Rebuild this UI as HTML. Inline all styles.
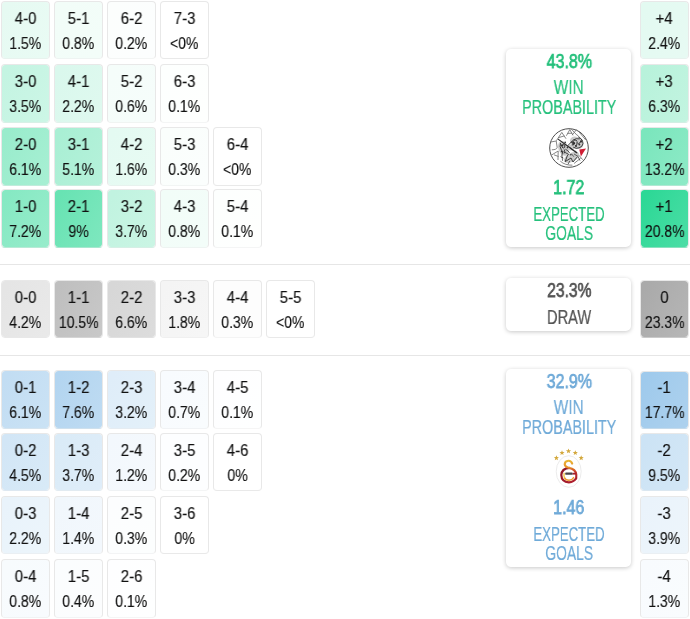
<!DOCTYPE html>
<html><head><meta charset="utf-8"><title>Match forecast</title>
<style>
html,body{margin:0;padding:0;background:#fff}
body{width:690px;height:619px;position:relative;overflow:hidden;font-family:"Liberation Sans",sans-serif;color:#111}
.c{position:absolute;box-sizing:border-box;border:1px solid #e8e8e8;border-radius:4px;padding-top:3.5px;text-align:center;font-size:16px;line-height:25px;white-space:nowrap;overflow:hidden}
.c span{display:inline-block;will-change:transform;-webkit-text-stroke:.14px #111;transform:scaleX(.875)}
.c span.a{transform:scaleX(.94)}
.hr{position:absolute;left:0;width:690px;height:1px;background:#e6e6e6}
.card{position:absolute;box-sizing:border-box;background:#fff;border-radius:5px;box-shadow:0 1px 4px rgba(0,0,0,.22)}
.t{position:absolute;width:200px;text-align:center;white-space:nowrap;line-height:1.117}
.t span{display:inline-block;will-change:transform}
.lg{position:absolute}
</style></head><body>
<div class="hr" style="top:264px"></div>
<div class="hr" style="top:354.5px"></div>
<div class="c" style="left:1.2px;top:1.15px;width:48.8px;height:58.3px;background:linear-gradient(120deg,#e6faf2 10%,#e9fbf4 95%);background-clip:padding-box;border-bottom-color:#e8f3ee"><span class="a">4-0</span><br><span>1.5%</span></div>
<div class="c" style="left:54.13px;top:1.15px;width:48.8px;height:58.3px;background:linear-gradient(120deg,#f2fdf8 10%,#f3fdf9 95%);background-clip:padding-box;border-bottom-color:#eef4f2"><span class="a">5-1</span><br><span>0.8%</span></div>
<div class="c" style="left:107.06px;top:1.15px;width:48.8px;height:58.3px;background:linear-gradient(120deg,#fcfefd 10%,#fcfefe 95%);background-clip:padding-box;border-bottom-color:#f3f5f4"><span class="a">6-2</span><br><span>0.2%</span></div>
<div class="c" style="left:159.99px;top:1.15px;width:48.8px;height:58.3px;background:#fff;background-clip:padding-box;border-bottom-color:#e9e9e9"><span class="a">7-3</span><br><span>&lt;0%</span></div>
<div class="c" style="left:1.2px;top:64.48px;width:48.8px;height:58.3px;background:linear-gradient(120deg,#c4f4e2 10%,#ccf6e6 95%);background-clip:padding-box;border-bottom-color:#d7f0e6"><span class="a">3-0</span><br><span>3.5%</span></div>
<div class="c" style="left:54.13px;top:64.48px;width:48.8px;height:58.3px;background:linear-gradient(120deg,#daf8ed 10%,#dff9ef 95%);background-clip:padding-box;border-bottom-color:#e2f2ec"><span class="a">4-1</span><br><span>2.2%</span></div>
<div class="c" style="left:107.06px;top:64.48px;width:48.8px;height:58.3px;background:linear-gradient(120deg,#f5fdfa 10%,#f6fdfb 95%);background-clip:padding-box;border-bottom-color:#f0f4f2"><span class="a">5-2</span><br><span>0.6%</span></div>
<div class="c" style="left:159.99px;top:64.48px;width:48.8px;height:58.3px;background:linear-gradient(120deg,#fdfffe 10%,#fefffe 95%);background-clip:padding-box;border-bottom-color:#f4f5f5"><span class="a">6-3</span><br><span>0.1%</span></div>
<div class="c" style="left:1.2px;top:127.48px;width:48.8px;height:58.3px;background:linear-gradient(120deg,#99eccc 10%,#a7efd3 95%);background-clip:padding-box;border-bottom-color:#c1ebdb"><span class="a">2-0</span><br><span>6.1%</span></div>
<div class="c" style="left:54.13px;top:127.48px;width:48.8px;height:58.3px;background:linear-gradient(120deg,#a9efd4 10%,#b5f1da 95%);background-clip:padding-box;border-bottom-color:#c9eddf"><span class="a">3-1</span><br><span>5.1%</span></div>
<div class="c" style="left:107.06px;top:127.48px;width:48.8px;height:58.3px;background:linear-gradient(120deg,#e4faf2 10%,#e8fbf3 95%);background-clip:padding-box;border-bottom-color:#e7f2ee"><span class="a">4-2</span><br><span>1.6%</span></div>
<div class="c" style="left:159.99px;top:127.48px;width:48.8px;height:58.3px;background:linear-gradient(120deg,#fafefc 10%,#fbfefd 95%);background-clip:padding-box;border-bottom-color:#f2f5f4"><span class="a">5-3</span><br><span>0.3%</span></div>
<div class="c" style="left:212.92px;top:127.48px;width:48.8px;height:58.3px;background:#fff;background-clip:padding-box;border-bottom-color:#e9e9e9"><span class="a">6-4</span><br><span>&lt;0%</span></div>
<div class="c" style="left:1.2px;top:189.3px;width:48.8px;height:58.3px;background:linear-gradient(120deg,#86e9c3 10%,#97eccb 95%);background-clip:padding-box;border-bottom-color:#b8ead6"><span class="a">1-0</span><br><span>7.2%</span></div>
<div class="c" style="left:54.13px;top:189.3px;width:48.8px;height:58.3px;background:linear-gradient(120deg,#68e3b3 10%,#7de7be 95%);background-clip:padding-box;border-bottom-color:#a8e7cf"><span class="a">2-1</span><br><span>9%</span></div>
<div class="c" style="left:107.06px;top:189.3px;width:48.8px;height:58.3px;background:linear-gradient(120deg,#c1f3e0 10%,#caf5e4 95%);background-clip:padding-box;border-bottom-color:#d5efe5"><span class="a">3-2</span><br><span>3.7%</span></div>
<div class="c" style="left:159.99px;top:189.3px;width:48.8px;height:58.3px;background:linear-gradient(120deg,#f2fdf8 10%,#f3fdf9 95%);background-clip:padding-box;border-bottom-color:#eef4f2"><span class="a">4-3</span><br><span>0.8%</span></div>
<div class="c" style="left:212.92px;top:189.3px;width:48.8px;height:58.3px;background:linear-gradient(120deg,#fdfffe 10%,#fefffe 95%);background-clip:padding-box;border-bottom-color:#f4f5f5"><span class="a">5-4</span><br><span>0.1%</span></div>
<div class="c" style="left:1.2px;top:280.1px;width:48.8px;height:58.3px;background:linear-gradient(120deg,#e5e5e5 10%,#e9e9e9 95%);background-clip:padding-box;border-bottom-color:#e8e8e8"><span class="a">0-0</span><br><span>4.2%</span></div>
<div class="c" style="left:54.13px;top:280.1px;width:48.8px;height:58.3px;background:linear-gradient(120deg,#bfbfbf 10%,#c8c8c8 95%);background-clip:padding-box;border-bottom-color:#d5d5d5"><span class="a">1-1</span><br><span>10.5%</span></div>
<div class="c" style="left:107.06px;top:280.1px;width:48.8px;height:58.3px;background:linear-gradient(120deg,#d7d7d7 10%,#dcdcdc 95%);background-clip:padding-box;border-bottom-color:#e1e1e1"><span class="a">2-2</span><br><span>6.6%</span></div>
<div class="c" style="left:159.99px;top:280.1px;width:48.8px;height:58.3px;background:linear-gradient(120deg,#f4f4f4 10%,#f6f6f6 95%);background-clip:padding-box;border-bottom-color:#f0f0f0"><span class="a">3-3</span><br><span>1.8%</span></div>
<div class="c" style="left:212.92px;top:280.1px;width:48.8px;height:58.3px;background:linear-gradient(120deg,#fdfdfd 10%,#fdfdfd 95%);background-clip:padding-box;border-bottom-color:#f4f4f4"><span class="a">4-4</span><br><span>0.3%</span></div>
<div class="c" style="left:265.85px;top:280.1px;width:48.8px;height:58.3px;background:#fff;background-clip:padding-box;border-bottom-color:#e9e9e9"><span class="a">5-5</span><br><span>&lt;0%</span></div>
<div class="c" style="left:1.2px;top:370.4px;width:48.8px;height:58.3px;background:linear-gradient(120deg,#c2ddf3 10%,#cae2f4 95%);background-clip:padding-box;border-bottom-color:#d6e4ee"><span class="a">0-1</span><br><span>6.1%</span></div>
<div class="c" style="left:54.13px;top:370.4px;width:48.8px;height:58.3px;background:linear-gradient(120deg,#b3d5f0 10%,#bedbf2 95%);background-clip:padding-box;border-bottom-color:#cee0ed"><span class="a">1-2</span><br><span>7.6%</span></div>
<div class="c" style="left:107.06px;top:370.4px;width:48.8px;height:58.3px;background:linear-gradient(120deg,#dfedf9 10%,#e3f0f9 95%);background-clip:padding-box;border-bottom-color:#e5ecf2"><span class="a">2-3</span><br><span>3.2%</span></div>
<div class="c" style="left:159.99px;top:370.4px;width:48.8px;height:58.3px;background:linear-gradient(120deg,#f8fbfe 10%,#f9fcfe 95%);background-clip:padding-box;border-bottom-color:#f1f3f5"><span class="a">3-4</span><br><span>0.7%</span></div>
<div class="c" style="left:212.92px;top:370.4px;width:48.8px;height:58.3px;background:linear-gradient(120deg,#fefeff 10%,#feffff 95%);background-clip:padding-box;border-bottom-color:#f5f5f5"><span class="a">4-5</span><br><span>0.1%</span></div>
<div class="c" style="left:1.2px;top:433.2px;width:48.8px;height:58.3px;background:linear-gradient(120deg,#d2e6f6 10%,#d8eaf7 95%);background-clip:padding-box;border-bottom-color:#dee8f1"><span class="a">0-2</span><br><span>4.5%</span></div>
<div class="c" style="left:54.13px;top:433.2px;width:48.8px;height:58.3px;background:linear-gradient(120deg,#daebf7 10%,#dfedf9 95%);background-clip:padding-box;border-bottom-color:#e2ebf1"><span class="a">1-3</span><br><span>3.7%</span></div>
<div class="c" style="left:107.06px;top:433.2px;width:48.8px;height:58.3px;background:linear-gradient(120deg,#f3f8fd 10%,#f5f9fd 95%);background-clip:padding-box;border-bottom-color:#eff2f4"><span class="a">2-4</span><br><span>1.2%</span></div>
<div class="c" style="left:159.99px;top:433.2px;width:48.8px;height:58.3px;background:linear-gradient(120deg,#fdfeff 10%,#fdfeff 95%);background-clip:padding-box;border-bottom-color:#f4f5f5"><span class="a">3-5</span><br><span>0.2%</span></div>
<div class="c" style="left:212.92px;top:433.2px;width:48.8px;height:58.3px;background:#fff;background-clip:padding-box;border-bottom-color:#e9e9e9"><span class="a">4-6</span><br><span>0%</span></div>
<div class="c" style="left:1.2px;top:496.2px;width:48.8px;height:58.3px;background:linear-gradient(120deg,#e9f3fb 10%,#ecf5fb 95%);background-clip:padding-box;border-bottom-color:#eaeff3"><span class="a">0-3</span><br><span>2.2%</span></div>
<div class="c" style="left:54.13px;top:496.2px;width:48.8px;height:58.3px;background:linear-gradient(120deg,#f1f7fc 10%,#f3f8fd 95%);background-clip:padding-box;border-bottom-color:#eef1f3"><span class="a">1-4</span><br><span>1.4%</span></div>
<div class="c" style="left:107.06px;top:496.2px;width:48.8px;height:58.3px;background:linear-gradient(120deg,#fcfdfe 10%,#fcfefe 95%);background-clip:padding-box;border-bottom-color:#f3f4f5"><span class="a">2-5</span><br><span>0.3%</span></div>
<div class="c" style="left:159.99px;top:496.2px;width:48.8px;height:58.3px;background:#fff;background-clip:padding-box;border-bottom-color:#e9e9e9"><span class="a">3-6</span><br><span>0%</span></div>
<div class="c" style="left:1.2px;top:559.3px;width:48.8px;height:58.3px;background:linear-gradient(120deg,#f7fbfd 10%,#f8fbfe 95%);background-clip:padding-box;border-bottom-color:#f1f3f4"><span class="a">0-4</span><br><span>0.8%</span></div>
<div class="c" style="left:54.13px;top:559.3px;width:48.8px;height:58.3px;background:linear-gradient(120deg,#fbfdfe 10%,#fcfdfe 95%);background-clip:padding-box;border-bottom-color:#f3f4f5"><span class="a">1-5</span><br><span>0.4%</span></div>
<div class="c" style="left:107.06px;top:559.3px;width:48.8px;height:58.3px;background:linear-gradient(120deg,#fefeff 10%,#feffff 95%);background-clip:padding-box;border-bottom-color:#f5f5f5"><span class="a">2-6</span><br><span>0.1%</span></div>
<div class="c" style="left:640.2px;top:1.15px;width:48.8px;height:58.3px;background:linear-gradient(120deg,#e3faf1 10%,#e7faf3 95%);background-clip:padding-box;border-bottom-color:#e7f2ee"><span class="a">+4</span><br><span>2.4%</span></div>
<div class="c" style="left:640.2px;top:64.48px;width:48.8px;height:58.3px;background:linear-gradient(120deg,#b8f2db 10%,#c2f4e0 95%);background-clip:padding-box;border-bottom-color:#d1eee3"><span class="a">+3</span><br><span>6.3%</span></div>
<div class="c" style="left:640.2px;top:127.48px;width:48.8px;height:58.3px;background:linear-gradient(120deg,#7be6bd 10%,#8deac6 95%);background-clip:padding-box;border-bottom-color:#b1e8d3"><span class="a">+2</span><br><span>13.2%</span></div>
<div class="c" style="left:640.2px;top:189.3px;width:48.8px;height:58.3px;background:linear-gradient(120deg,#2dd896 10%,#4adda5 95%);background-clip:padding-box;border-bottom-color:#8ae1bf"><span class="a">+1</span><br><span>20.8%</span></div>
<div class="c" style="left:640.2px;top:280.1px;width:48.8px;height:58.3px;background:linear-gradient(120deg,#aaaaaa 10%,#b6b6b6 95%);background-clip:padding-box;border-bottom-color:#cacaca"><span class="a">0</span><br><span>23.3%</span></div>
<div class="c" style="left:640.2px;top:370.6px;width:48.8px;height:58.3px;background:linear-gradient(120deg,#9fcaec 10%,#add1ee 95%);background-clip:padding-box;border-bottom-color:#c4daeb"><span class="a">-1</span><br><span>17.7%</span></div>
<div class="c" style="left:640.2px;top:433.2px;width:48.8px;height:58.3px;background:linear-gradient(120deg,#cce3f5 10%,#d3e7f6 95%);background-clip:padding-box;border-bottom-color:#dbe7f0"><span class="a">-2</span><br><span>9.5%</span></div>
<div class="c" style="left:640.2px;top:496.2px;width:48.8px;height:58.3px;background:linear-gradient(120deg,#eaf3fb 10%,#edf5fb 95%);background-clip:padding-box;border-bottom-color:#eaeff3"><span class="a">-3</span><br><span>3.9%</span></div>
<div class="c" style="left:640.2px;top:559.3px;width:48.8px;height:58.3px;background:linear-gradient(120deg,#f8fbfe 10%,#f9fcfe 95%);background-clip:padding-box;border-bottom-color:#f1f3f5"><span class="a">-4</span><br><span>1.3%</span></div>
<div class="card" style="left:506px;top:48.5px;width:125px;height:198px"></div>
<div class="card" style="left:506px;top:277.5px;width:125px;height:53.5px"></div>
<div class="card" style="left:506px;top:368.5px;width:125px;height:198px"></div>
<div class="t" style="top:51px;left:469px;font-size:19.3px;color:#25c07c;-webkit-text-stroke:0.75px #25c07c;"><span style="transform:scaleX(0.83)">43.8%</span></div>
<div class="t" style="top:77px;left:469px;font-size:19.3px;color:#25c07c;-webkit-text-stroke:0.22px #25c07c;"><span style="transform:scaleX(0.8)">WIN</span></div>
<div class="t" style="top:97px;left:469px;font-size:19.3px;color:#25c07c;-webkit-text-stroke:0.22px #25c07c;"><span style="transform:scaleX(0.745)">PROBABILITY</span></div>
<div class="t" style="top:177px;left:469px;font-size:19.3px;color:#25c07c;-webkit-text-stroke:0.75px #25c07c;"><span style="transform:scaleX(0.83)">1.72</span></div>
<div class="t" style="top:204px;left:469px;font-size:19.3px;color:#25c07c;-webkit-text-stroke:0.22px #25c07c;"><span style="transform:scaleX(0.685)">EXPECTED</span></div>
<div class="t" style="top:223px;left:469px;font-size:19.3px;color:#25c07c;-webkit-text-stroke:0.22px #25c07c;"><span style="transform:scaleX(0.72)">GOALS</span></div>
<div class="t" style="top:371px;left:469px;font-size:19.3px;color:#6faad8;-webkit-text-stroke:0.75px #6faad8;"><span style="transform:scaleX(0.83)">32.9%</span></div>
<div class="t" style="top:397px;left:469px;font-size:19.3px;color:#6faad8;-webkit-text-stroke:0.22px #6faad8;"><span style="transform:scaleX(0.8)">WIN</span></div>
<div class="t" style="top:417px;left:469px;font-size:19.3px;color:#6faad8;-webkit-text-stroke:0.22px #6faad8;"><span style="transform:scaleX(0.745)">PROBABILITY</span></div>
<div class="t" style="top:497px;left:469px;font-size:19.3px;color:#6faad8;-webkit-text-stroke:0.75px #6faad8;"><span style="transform:scaleX(0.83)">1.46</span></div>
<div class="t" style="top:524px;left:469px;font-size:19.3px;color:#6faad8;-webkit-text-stroke:0.22px #6faad8;"><span style="transform:scaleX(0.685)">EXPECTED</span></div>
<div class="t" style="top:543px;left:469px;font-size:19.3px;color:#6faad8;-webkit-text-stroke:0.22px #6faad8;"><span style="transform:scaleX(0.72)">GOALS</span></div>
<div class="t" style="top:280px;left:469px;font-size:19.3px;color:#555;-webkit-text-stroke:0.75px #555;"><span style="transform:scaleX(0.81)">23.3%</span></div>
<div class="t" style="top:307px;left:469px;font-size:19.3px;color:#555;-webkit-text-stroke:0.22px #555;"><span style="transform:scaleX(0.76)">DRAW</span></div>

<svg class="lg" style="left:548.6px;top:128.2px" width="40" height="40" viewBox="0 0 40 40">
<circle cx="20" cy="20" r="19.3" fill="#fff" stroke="#4e4e4e" stroke-width="1"/>
<g fill="#8c8c8c" opacity=".45">
<ellipse cx="14.4" cy="20.4" rx="5" ry="7.6" transform="rotate(-22 14.4 20.4)"/>
<ellipse cx="27.6" cy="14.8" rx="7.4" ry="5.4" transform="rotate(38 27.6 14.8)"/>
<ellipse cx="22.6" cy="29.4" rx="8.4" ry="4.4" transform="rotate(-28 22.6 29.4)"/>
<ellipse cx="21.4" cy="19.6" rx="4.4" ry="3"/>
</g>
<g fill="none" stroke="#707070" stroke-width="0.85" stroke-linecap="round" stroke-linejoin="round">
<path d="M17.6 7.4 L20.8 1.6 L23.8 7 M18.8 5.4 L22.8 5.2"/>
<path d="M22.6 1.4 L28 7.2 M27.4 1.8 L23.4 6.8"/>
<path d="M7.6 12.4 L12.8 4.4 L16.8 10.4 M9.6 9.6 L15 8"/>
<path d="M1.8 14 L7.2 13 L8.2 19.4 Q7.8 21.8 3.2 21.8"/>
<path d="M2.6 27 L9.2 23 L9 31.6 M5.4 27 L9.2 28.4"/>
<path d="M28.4 7.2 L33.6 12.4 M29.6 3.4 L36.4 11.6"/>
<path d="M11.6 33.4 Q16 37.4 23 37.2 M25.4 35.2 L31.4 30.4 M30.2 27.6 L33.4 31.4"/>
</g>
<g fill="none" stroke="#262626" stroke-linecap="round" stroke-linejoin="round">
<path d="M9.4 11.4 L27.8 24.8" stroke-width="1.15"/>
<path d="M19 17.4 L24 12.2 Q27 9.8 30.4 10.8" stroke-width="0.8"/>
<path d="M11.4 15.4 Q10.4 19 12.2 21.4 Q14.6 23.8 13 26.8 Q12.4 28.6 13.8 30" stroke-width="0.9"/>
<path d="M14.4 16 Q16.6 16.8 15.8 19.2 Q14.6 20.8 13.2 19.4" stroke-width="0.9"/>
<path d="M16.8 21.4 Q19 22.2 20.4 24.6 M14.8 23.8 L19.8 26.4 M15.4 21.8 Q16.4 23.6 15.2 25.2" stroke-width="0.8"/>
<path d="M18.6 27 L16.2 33.6 L22 30 L24 34 L27.8 29.4" stroke-width="0.85"/>
<path d="M22.2 14.2 Q24.8 12.6 25.8 15 Q25.6 17.4 23.2 17 M26.6 17.8 Q28.8 16.6 28.2 14.2 M25 12 Q27 11.6 28 13" stroke-width="1"/>
<path d="M29.8 9.4 Q34 11.4 34 15.8 Q33.4 18.8 30.4 19.8" stroke-width="0.9"/>
<path d="M24.6 19.4 Q27.2 21.2 29.6 20 M21 19.6 L24.4 22.6 M29.4 16 Q31.2 15.4 31.6 13.6" stroke-width="0.9"/>
<path d="M12 28.6 Q14 30 13.6 32.4 M20.6 33.2 L19.2 36 M25.4 26.2 L29 28.4 L30.8 32.2 M22.6 26 L24.6 28.4" stroke-width="0.7"/>
</g>
<g fill="#333">
<circle cx="13.1" cy="17.4" r="1.25"/><circle cx="16.2" cy="14.3" r=".85"/><circle cx="24.3" cy="15" r="1.2"/>
<circle cx="27" cy="18" r="1.1"/><circle cx="32.1" cy="13.4" r="1.1"/><circle cx="26.4" cy="23.6" r=".9"/>
<circle cx="30.4" cy="16.6" r=".9"/><circle cx="21.8" cy="26.8" r=".8"/><circle cx="12.6" cy="23.6" r=".8"/><circle cx="18.4" cy="19.6" r=".8"/>
</g>
<path d="M30.3 21.6 L37 20.4 L31.9 28.6 Z" fill="#cf1c33"/>
</svg>
<svg class="lg" style="left:548px;top:444px" width="42" height="48" viewBox="0 0 42 48">
<defs>
<linearGradient id="gs1" x1="0" y1="0" x2="1" y2="1"><stop offset="0" stop-color="#8a1527"/><stop offset="1" stop-color="#b3202e"/></linearGradient>
<linearGradient id="gs3" gradientUnits="userSpaceOnUse" x1="0" y1="16" x2="0" y2="34"><stop offset="0" stop-color="#e8b836"/><stop offset=".4" stop-color="#e8912a"/><stop offset=".62" stop-color="#c8402a"/><stop offset="1" stop-color="#a81e2c"/></linearGradient>
</defs>
<ellipse cx="20.7" cy="27.5" rx="12.5" ry="15.8" fill="#fff" stroke="#e6e6e6" stroke-width="0.8"/>
<g fill="#d3a83c">
<path id="st" d="M0 -2.7 L.7 -.88 L2.6 -.84 L1.1 .36 L1.6 2.2 L0 1.16 L-1.6 2.2 L-1.1 .36 L-2.6 -.84 L-.7 -.88 Z" transform="translate(8.4 14)"/>
<use href="#st" x="5.6" y="-5.1"/><use href="#st" x="12.1" y="-6.9"/><use href="#st" x="18.9" y="-5.1"/><use href="#st" x="24.8" y="-14" transform="translate(0 14)"/>
</g>
<path d="M21.6 23.8 Q13.7 24.3 13.3 31 Q13.6 38 20.9 38.3 Q25.8 38 28.1 34.2" fill="none" stroke="url(#gs1)" stroke-width="2.2"/>
<path d="M24.2 19.6 Q23.2 16.6 20.4 16.7 Q16.8 17 16.7 20.4 Q17 23 21 23.9 Q27.6 25.2 28.3 30.6 L28.2 34.4" fill="none" stroke="url(#gs3)" stroke-width="2.1" stroke-linecap="round"/>
<path d="M16.4 33.6 Q17.6 36.2 21 36.3 Q24.2 36 25.6 33.6" fill="none" stroke="#ee9a2c" stroke-width="1.4" stroke-linecap="round"/>
<path d="M16.1 29.4 Q15.7 31.8 16.5 33.6" fill="none" stroke="#f0c23c" stroke-width="1.3" stroke-linecap="round"/>
<path d="M24.4 29.7 L28.2 29.7" stroke="#a81e2c" stroke-width="1.8"/>
<rect x="17.3" y="28.6" width="7.2" height="2.2" rx=".6" fill="#4a4548"/>
</svg>

</body></html>
